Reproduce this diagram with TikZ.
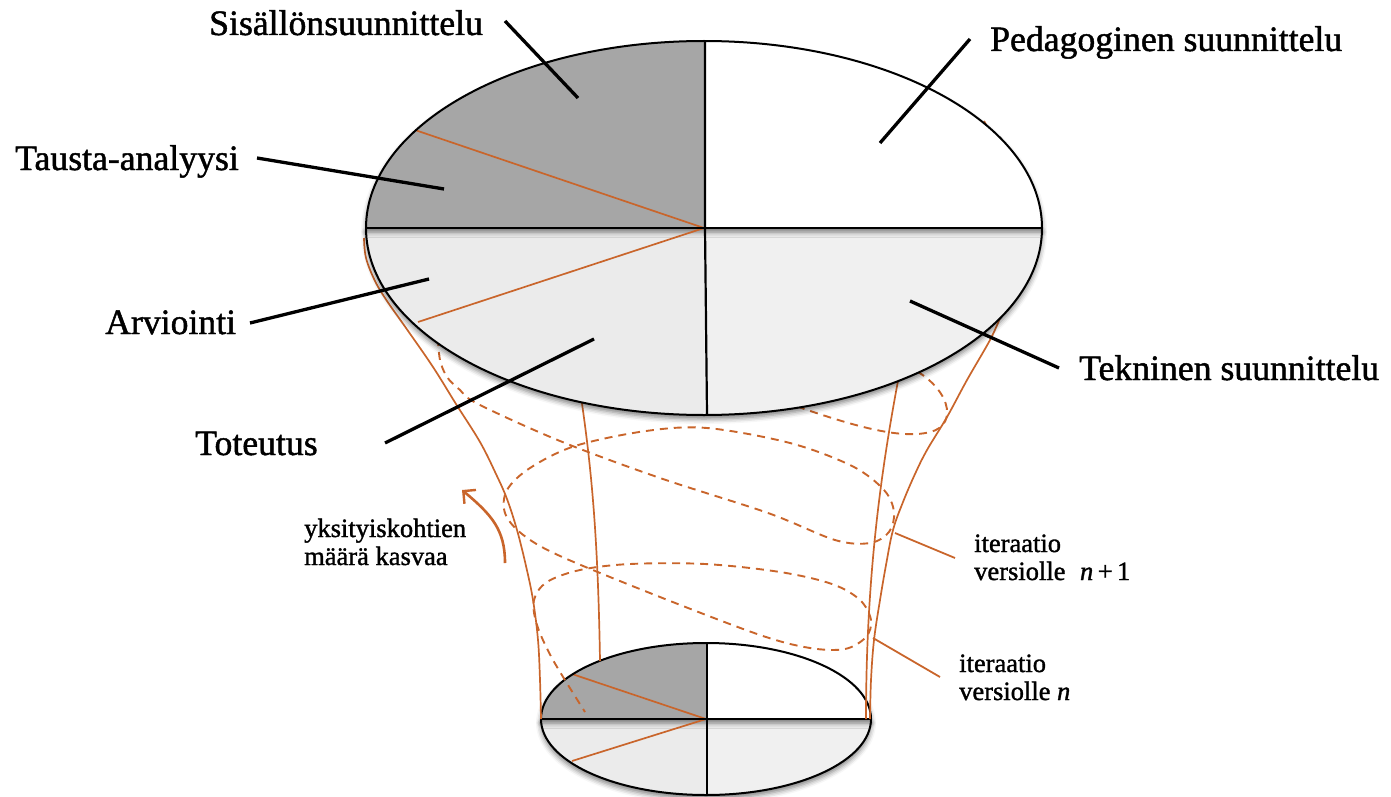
\documentclass[tikz,border=0pt]{standalone}
\usepackage{fontspec}
\setmainfont{Liberation Serif}[FakeBold=1.3]
\usetikzlibrary{shadows.blur,arrows.meta}
\definecolor{rust}{RGB}{201,101,43}
\definecolor{darkq}{RGB}{166,166,166}
\definecolor{lightq}{RGB}{235,235,235}
\definecolor{lightqq}{RGB}{240,240,240}
\begin{document}
\begin{tikzpicture}[x=1pt,y=-1pt,
  biglabel/.style={anchor=base west, inner sep=0pt, font=\fontsize{35.7}{40}\selectfont},
  smalllabel/.style={anchor=base west, inner sep=0pt, font=\fontsize{26.5}{30}\selectfont},
  pointer/.style={line width=3.3pt, black},
  rustpointer/.style={line width=1.8pt, rust},
  funnel/.style={rust, line width=1.7pt},
  helix/.style={rust, line width=1.9pt, dash pattern=on 8pt off 6pt},
  rim/.style={black, line width=2pt},
  divider/.style={black, line width=2.2pt},
  halfshadow/.style={blur shadow={shadow xshift=0pt, shadow yshift=-4pt, shadow blur radius=5pt, shadow opacity=50}},
]
\useasboundingbox (0,0) rectangle (1391,797);

% ---------- small ellipse ----------
\coordinate (sc) at (706,719);
\path[halfshadow, fill=lightq] (541,719) arc[start angle=180, end angle=0, x radius=165, y radius=76] -- cycle;
\fill[lightqq] (sc) -- (871,719) arc[start angle=0, end angle=90, x radius=165, y radius=76] -- cycle;
\path[halfshadow, fill=white] (541,719) arc[start angle=180, end angle=360, x radius=165, y radius=76] -- cycle;
\fill[darkq] (sc) -- (541,719) arc[start angle=180, end angle=270, x radius=165, y radius=76] -- cycle;
\coordinate (sa) at (572,674);
\coordinate (sb) at (572,761);
\draw[funnel] (sc) -- (sa);
\draw[funnel] (sc) -- (sb);
\draw[rim] (sc) ellipse[x radius=165, y radius=76];
\draw[divider] (541,719) -- (871,719);
\draw[divider] (707,643) -- (707,795);

% ---------- funnel (solid) ----------
\draw[funnel] plot[smooth, tension=0.6] coordinates {
  (364,238) (366,258) (375,281) (387,301) (406,328) (433,367) (456,404)
  (480,442) (496,474) (507,499) (517,530) (526,566) (533,600) (538,640)
  (540,680) (541,719)};
\draw[funnel] (580,390) .. controls (592,470) and (598,540) .. (600,661);
\draw[funnel] (900,370) .. controls (885,450) and (866,560) .. (866,719);
\draw[funnel] (984,121) .. controls (1030,200) and (1022,285) .. (1000,318);
\draw[funnel] plot[smooth, tension=0.6] coordinates {
  (1000,318) (990,340) (967,380) (947,417) (927,450) (915,474) (903,502)
  (893,530) (886,565) (880,600) (874,640) (871,680) (870,719)};

% ---------- helix (dashed) ----------
\draw[helix] (905,365) .. controls (950,385) and (960,425) .. (930,432)
                       .. controls (900,440) and (850,425) .. (790,404);
\draw[helix] plot[smooth, tension=0.55] coordinates {
  (438,338) (440,360) (447,377) (460,390) (478,404) (560,441) (660,478)
  (768,513) (835,540) (870,543) (889,532) (894,512) (884,490) (852,466)
  (790,443) (707,428) (646,431) (575,446) (530,468) (507,490) (505,513)
  (522,534) (560,556) (660,597) (760,635) (810,648) (845,649) (866,637)
  (871,620) (860,600) (832,584) (780,572) (705,564) (630,564) (580,570)
  (547,582) (534,600) (537,625) (553,660) (585,712)};

% ---------- big ellipse ----------
\coordinate (bc) at (704,228);
\path[halfshadow, fill=lightq] (366,228) arc[start angle=180, end angle=0, x radius=338, y radius=187] -- cycle;
\fill[lightqq] (bc) -- (1042,228) arc[start angle=0, end angle=90, x radius=338, y radius=187] -- cycle;
\path[halfshadow, fill=white] (366,228) arc[start angle=180, end angle=360, x radius=338, y radius=187] -- cycle;
\fill[darkq] (bc) -- (366,228) arc[start angle=180, end angle=270, x radius=338, y radius=187] -- cycle;
\coordinate (ba) at (415,130);
\coordinate (bb) at (418,322);
\draw[funnel] (bc) -- (ba);
\draw[funnel] (bc) -- (bb);
\draw[rim] (bc) ellipse[x radius=338, y radius=187];
\draw[divider] (366,228) -- (1042,228);
\draw[divider] (705,41) -- (705,228) -- (707,415);

% ---------- labels ----------
\node[biglabel] (sis) at (209,35) {Sisällönsuunnittelu};
\node[biglabel] (ped) at (990,51) {Pedagoginen suunnittelu};
\node[biglabel] (tau) at (15,170) {Tausta-analyysi};
\node[biglabel] (arv) at (105,334) {Arviointi};
\node[biglabel] (tot) at (195,455) {Toteutus};
\node[biglabel] (tek) at (1079,380) {Tekninen suunnittelu};
\node[smalllabel] (yk1) at (304,537) {yksityiskohtien};
\node[smalllabel] (yk2) at (304,565) {määrä kasvaa};
\node[smalllabel] (ia1) at (974,552) {iteraatio};
\node[smalllabel] (ia2) at (974,580) {versiolle\hspace{0.55em}\textit{n}\,+\,1};
\node[smalllabel] (ib1) at (959,672) {iteraatio};
\node[smalllabel] (ib2) at (959,700) {versiolle \textit{n}};

% ---------- pointer lines ----------
\coordinate (sisA) at (505,21);  \coordinate (sisB) at (578,98);
\coordinate (pedA) at (970,39);  \coordinate (pedB) at (880,143);
\coordinate (tauA) at (257,158); \coordinate (tauB) at (444,189);
\coordinate (arvA) at (250,323); \coordinate (arvB) at (429,279);
\coordinate (totA) at (385,443); \coordinate (totB) at (594,339);
\coordinate (tekA) at (910,301); \coordinate (tekB) at (1059,368);
\draw[pointer] (sisA) -- (sisB);
\draw[pointer] (pedA) -- (pedB);
\draw[pointer] (tauA) -- (tauB);
\draw[pointer] (arvA) -- (arvB);
\draw[pointer] (totA) -- (totB);
\draw[pointer] (tekA) -- (tekB);

\coordinate (iaA) at (895,533); \coordinate (iaB) at (955,558);
\coordinate (ibA) at (873,638); \coordinate (ibB) at (940,677);
\draw[rustpointer] (iaA) -- (iaB);
\draw[rustpointer] (ibA) -- (ibB);

% ---------- growth arrow ----------
\coordinate (arA) at (505,563);
\coordinate (arB) at (462,490);
\draw[rust, line width=2.6pt, -{Straight Barb[length=9pt, width=18pt, line width=2.4pt]}]
  (arA) .. controls (505,530) and (492,515) .. (arB);
\end{tikzpicture}
\end{document}
